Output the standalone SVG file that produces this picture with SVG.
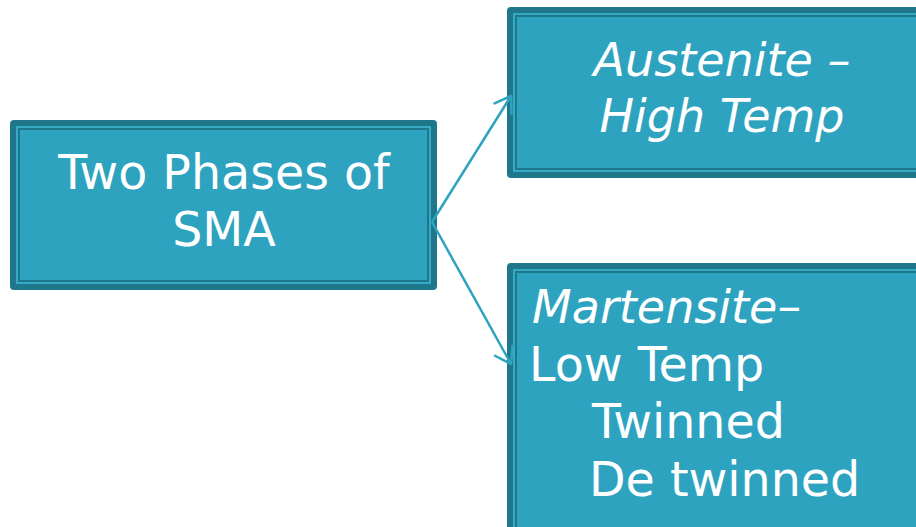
<svg xmlns="http://www.w3.org/2000/svg" width="916" height="527" viewBox="0 0 916 527">
<style>
.outer{fill:#1f778c}
.band{fill:#34aac5}
.inner{fill:#2ea3bf;stroke:#1f778c;stroke-width:2}
.t{font-family:"DejaVu Sans",sans-serif;font-size:47.5px;fill:#ffffff}
.i{font-style:italic;font-size:46px}
.conn{stroke:#2ea3bf;stroke-width:2.5;fill:none}
</style>
<defs>
<marker id="arr" markerUnits="userSpaceOnUse" viewBox="-20 -12 24 24" markerWidth="24" markerHeight="24" refX="0" refY="0" orient="auto">
<path d="M-15,-10 L0,0 L-15,10" fill="none" stroke="#2ea3bf" stroke-width="2.5" stroke-linecap="round" stroke-linejoin="round"/>
</marker>
</defs>
<rect width="916" height="527" fill="#ffffff"/>
<g id="node-sma">
<rect class="outer" x="10" y="120" width="427" height="170" rx="4"/>
<rect class="band" x="16" y="126" width="415" height="158"/>
<rect class="inner" x="19" y="129" width="409" height="152"/>
<text class="t" x="224" y="189" text-anchor="middle">Two Phases of</text>
<text class="t" x="224" y="246" text-anchor="middle">SMA</text>
</g>
<g id="node-austenite">
<rect class="outer" x="507" y="7" width="430" height="171" rx="4"/>
<rect class="band" x="513" y="13" width="418" height="159"/>
<rect class="inner" x="516" y="16" width="412" height="153"/>
<text class="t i" x="722" y="76" text-anchor="middle">Austenite –</text>
<text class="t i" x="722" y="132" text-anchor="middle">High Temp</text>
</g>
<g id="node-martensite">
<rect class="outer" x="507" y="263" width="430" height="300" rx="4"/>
<rect class="band" x="513" y="269" width="418" height="288"/>
<rect class="inner" x="516" y="272" width="412" height="282"/>
<text class="t" x="532" y="323"><tspan class="i">Martensite</tspan>–</text>
<text class="t" x="529" y="381">Low Temp</text>
<text class="t" x="592" y="438">Twinned</text>
<text class="t" x="589" y="496">De twinned</text>
</g>
<g id="connectors">
<line class="conn" x1="432" y1="222" x2="511" y2="96" marker-end="url(#arr)"/>
<line class="conn" x1="432" y1="222" x2="511" y2="364" marker-end="url(#arr)"/>
</g>
</svg>
